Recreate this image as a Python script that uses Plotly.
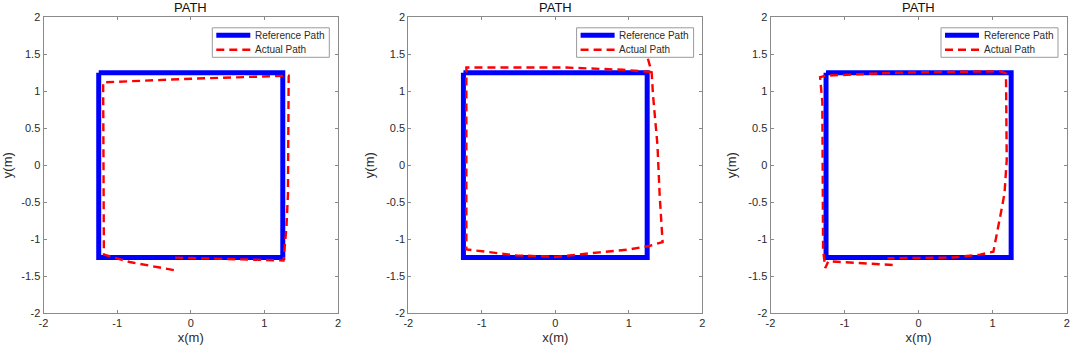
import plotly.graph_objects as go

# ---------------- data ----------------
ref_x = [-1.25, 1.25, 1.25, -1.25, -1.25]
ref_y = [1.25, 1.25, -1.25, -1.25, 1.25]

act1_x = [-0.23, -0.83, -1.18, -1.19, 0.03, 1.33, 1.32, 1.30, 1.26, 0.50, -0.25]
act1_y = [-1.42, -1.31, -1.21, 1.12, 1.17, 1.21, -0.39, -0.84, -1.29, -1.27, -1.25]

act2_x = [1.26, 1.31, 1.33, 1.39, 1.42, 1.46, 1.29, 1.01, 0.60, 0.01, -0.53, -1.21, -1.21, 0.15, 0.92, 1.31]
act2_y = [1.44, 1.26, 0.94, 0.27, -0.41, -1.04, -1.09, -1.14, -1.18, -1.24, -1.22, -1.14, 1.32, 1.32, 1.29, 1.26]

act3_x = [-0.35, -1.22, -1.26, -1.29, -1.30, -1.33, -1.25, -0.35, 1.10, 1.18, 1.19, 1.16, 1.12, 1.05, 1.01, 0.83, 0.46, -0.42]
act3_y = [-1.35, -1.30, -1.39, -1.15, 0.85, 1.19, 1.21, 1.25, 1.27, 1.24, 0.07, -0.38, -0.60, -1.00, -1.17, -1.21, -1.25, -1.26]

tick_vals = [-2, -1.5, -1, -0.5, 0, 0.5, 1, 1.5, 2]
y_tick_text = ["-2", "-1.5", "-1", "-0.5", "0", "0.5", "1", "1.5", "2"]
x_tick_vals = [-2, -1, 0, 1, 2]
x_tick_text = ["-2", "-1", "0", "1", "2"]

panel_title = "PATH"
legend_names = ["Reference Path", "Actual Path"]

actual = [(act1_x, act1_y), (act2_x, act2_y), (act3_x, act3_y)]

# ---------------- layout geometry ----------------
W, H = 1072, 355
x_domains = [(43.5, 338.0), (408.3, 702.3), (770.5, 1066.7)]
y_top, y_bot = 17.3, 313.0
yd = [1 - y_bot / H, 1 - y_top / H]

FONT = "Liberation Sans, Arial, sans-serif"
AXC = "#8a8a8a"
TXT = "#2b2b2b"
BLUE = "#0000FF"
RED = "#FF0000"
DASH = "8px,5px"

fig = go.Figure()
layout = dict(
    width=W, height=H,
    margin=dict(l=0, r=0, t=0, b=0, autoexpand=False),
    paper_bgcolor="white", plot_bgcolor="white",
    font=dict(family=FONT, size=11, color=TXT),
    showlegend=False,
)

def px(x):
    return x / W

def py(y):
    return 1 - y / H

annotations = []
shapes = []
for i, (xd, (ax_, ay_)) in enumerate(zip(x_domains, actual)):
    n = "" if i == 0 else str(i + 1)
    xa = "x" + n
    ya = "y" + n
    fig.add_trace(go.Scatter(
        x=ref_x, y=ref_y, mode="lines", name=legend_names[0],
        line=dict(color=BLUE, width=5),
        xaxis=xa, yaxis=ya,
    ))
    fig.add_trace(go.Scatter(
        x=ax_, y=ay_, mode="lines", name=legend_names[1],
        line=dict(color=RED, width=2.4, dash=DASH),
        xaxis=xa, yaxis=ya,
    ))
    common = dict(
        showgrid=False, zeroline=False, showline=True, linecolor=AXC, linewidth=1,
        mirror="ticks", ticks="inside", ticklen=3, tickcolor=AXC, automargin=False,
        tickfont=dict(family=FONT, size=11, color=TXT),
    )
    layout["xaxis" + n] = dict(
        common, domain=[xd[0] / W, xd[1] / W], anchor=ya, range=[-2, 2],
        tickvals=x_tick_vals, ticktext=x_tick_text,
        title=dict(text="x(m)", font=dict(family=FONT, size=13, color=TXT), standoff=4),
    )
    layout["yaxis" + n] = dict(
        common, domain=yd, anchor=xa, range=[-2, 2],
        tickvals=tick_vals, ticktext=y_tick_text,
        title=dict(text="y(m)", font=dict(family=FONT, size=13, color=TXT), standoff=8),
    )
    # title
    annotations.append(dict(
        text=panel_title, x=px((xd[0] + xd[1]) / 2), y=py(7.5),
        xref="paper", yref="paper", xanchor="center", yanchor="middle",
        showarrow=False, font=dict(family=FONT, size=13, color="#111111"),
    ))
    # legend box (drawn in paper space)
    bx1 = xd[1] - 8.7
    bx0 = bx1 - 117
    by0 = y_top + 10.5
    by1 = by0 + 29.5
    shapes.append(dict(type="rect", xref="paper", yref="paper",
                       x0=px(bx0), x1=px(bx1), y0=py(by0), y1=py(by1),
                       line=dict(color="#9a9a9a", width=1), fillcolor="white", layer="above"))
    shapes.append(dict(type="line", xref="paper", yref="paper",
                       x0=px(bx0 + 4), x1=px(bx0 + 38), y0=py(by0 + 7.5), y1=py(by0 + 7.5),
                       line=dict(color=BLUE, width=5), layer="above"))
    shapes.append(dict(type="line", xref="paper", yref="paper",
                       x0=px(bx0 + 4), x1=px(bx0 + 38), y0=py(by0 + 22), y1=py(by0 + 22),
                       line=dict(color=RED, width=2.4, dash=DASH), layer="above"))
    for k, (name, yy) in enumerate(zip(legend_names, [by0 + 7.5, by0 + 22])):
        annotations.append(dict(
            text=name, x=px(bx0 + 40.5), y=py(yy), xref="paper", yref="paper",
            xanchor="left", yanchor="middle", showarrow=False,
            font=dict(family=FONT, size=10, color=TXT),
        ))

layout["annotations"] = annotations
layout["shapes"] = shapes
fig.update_layout(**layout)
fig.write_html(
    "out.html",
    config={"displayModeBar": False},
    post_script="document.body.style.margin='0px';document.body.style.overflow='hidden';",
)
